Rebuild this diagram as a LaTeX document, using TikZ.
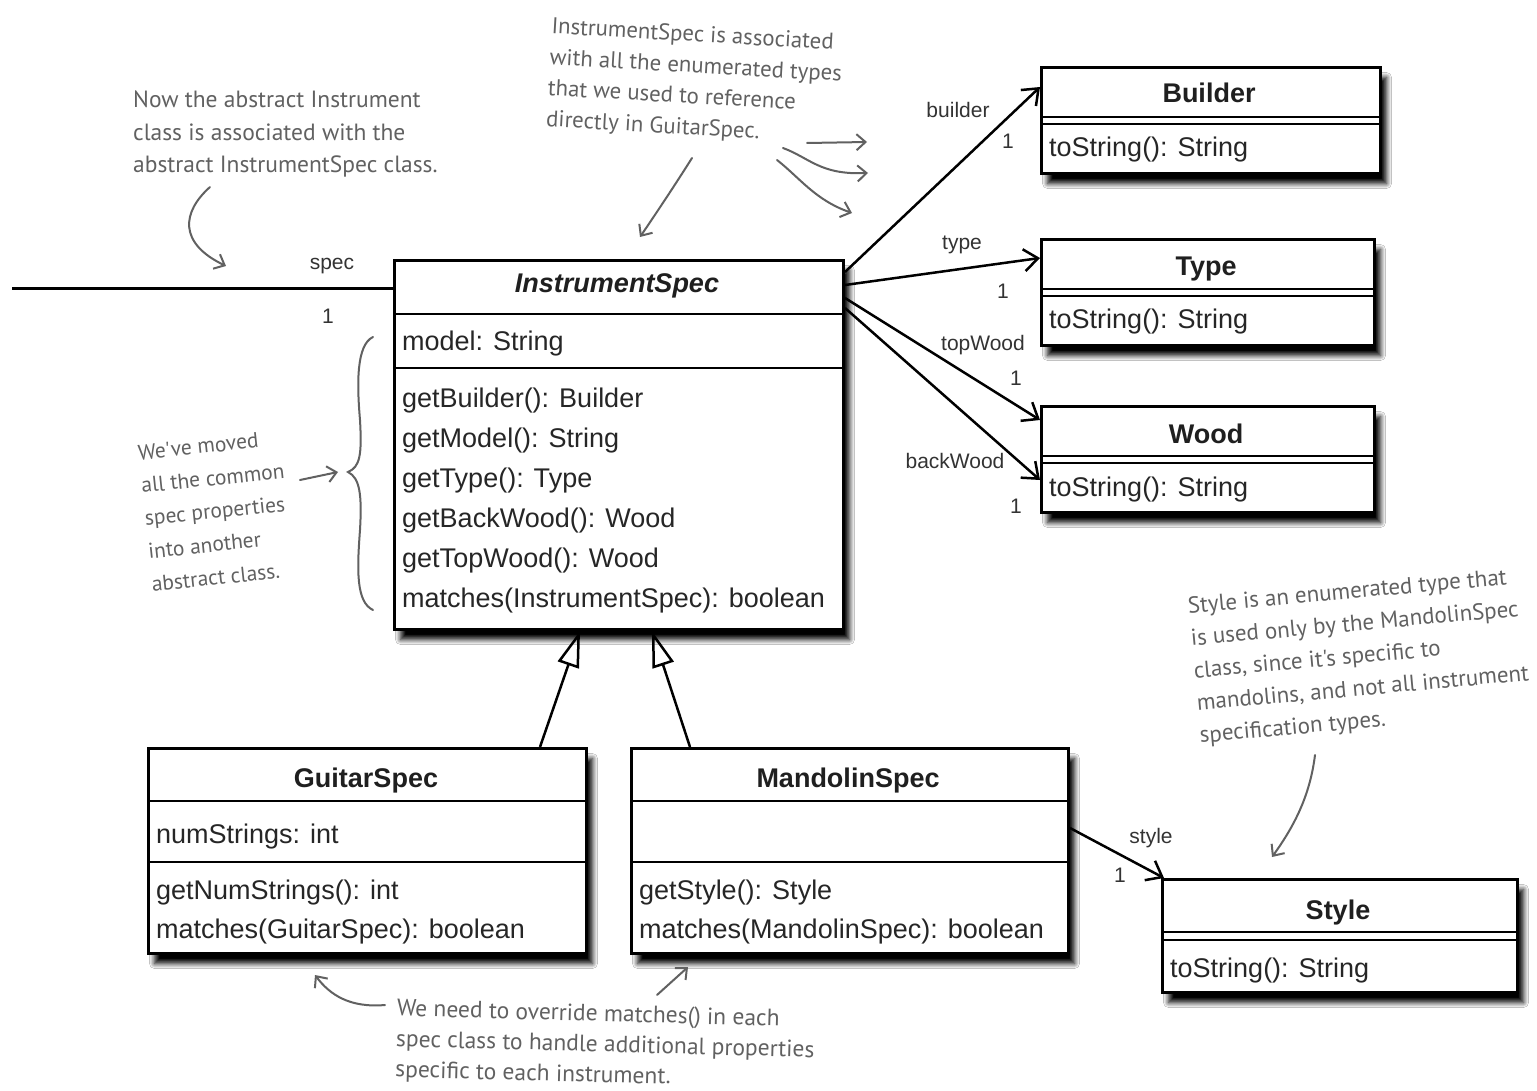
\documentclass[tikz,border=0pt]{standalone}
\usepackage{fontspec}
\setmainfont{Liberation Sans}
\newfontfamily\handfam{PT Sans}
\usetikzlibrary{arrows.meta,shadows.blur,calc}
\newcommand\clsfont{\fontsize{27}{32}\selectfont}
\newcommand\lblfont{\fontsize{21}{25}\selectfont}
\newcommand\handfont{\handfam\fontsize{22}{31}\selectfont}
\begin{document}
\begin{tikzpicture}[x=1pt,y=-1pt,
  umlbox/.style={draw, line width=3pt, fill=white, rectangle, inner sep=0pt, anchor=north west,
     blur shadow={shadow xshift=6pt, shadow yshift=-10pt, shadow blur radius=5pt, shadow opacity=100, shadow blur steps=8}},
  sepline/.style={line width=2.5pt},
  ttl/.style={font=\clsfont\bfseries, anchor=base, inner sep=0pt, text=black!88},
  mem/.style={font=\clsfont, anchor=base west, inner sep=0pt, text=black!85},
  lbl/.style={font=\lblfont, anchor=center, inner sep=0pt, text=black!80},
  assoc/.style={line width=2.5pt, -{Straight Barb[length=14pt,width=22pt,line width=2.5pt]}},
  genarrow/.style={line width=2.5pt, -{Triangle[open,length=36pt,width=22pt,line width=2.5pt]}},
  annot/.style={font=\handfont, text=black!62, align=left, inner sep=0pt, anchor=north west},
  handarrow/.style={draw=black!62, line width=2pt, line cap=round, -{Straight Barb[length=9pt,width=16pt,line width=2pt]}},
  handline/.style={draw=black!62, line width=2pt, line cap=round},
]
\useasboundingbox (0,0) rectangle (1537,1091);
\fill[white] (0,0) rectangle (1537,1091);

% ---------- InstrumentSpec ----------
\node[umlbox, minimum width=449pt, minimum height=369pt] (is) at (393,259) {};
\draw[sepline] ([yshift=-55pt]is.north west) -- ([yshift=-55pt]is.north east);
\draw[sepline] ([yshift=-109pt]is.north west) -- ([yshift=-109pt]is.north east);
\node[ttl, font=\clsfont\bfseries\itshape] (ist) at (617,293) {InstrumentSpec};
\node[mem] (ism0) at (402,350) {model: String};
\foreach \t [count=\i] in {getBuilder(): Builder, getModel(): String, getType(): Type, getBackWood(): Wood, getTopWood(): Wood, matches(InstrumentSpec): boolean}
  \node[mem] (ism\i) at (402,{367+40*\i}) {\t};

% ---------- GuitarSpec ----------
\node[umlbox, minimum width=438pt, minimum height=205pt] (gs) at (147,747) {};
\draw[sepline] ([yshift=-54pt]gs.north west) -- ([yshift=-54pt]gs.north east);
\draw[sepline] ([yshift=-115pt]gs.north west) -- ([yshift=-115pt]gs.north east);
\node[ttl] (gst) at (366,787) {GuitarSpec};
\node[mem] (gsa) at (156,843) {numStrings: int};
\node[mem] (gsm1) at (156,899) {getNumStrings(): int};
\node[mem] (gsm2) at (156,938) {matches(GuitarSpec): boolean};

% ---------- MandolinSpec ----------
\node[umlbox, minimum width=437pt, minimum height=205pt] (man) at (630,747) {};
\draw[sepline] ([yshift=-54pt]man.north west) -- ([yshift=-54pt]man.north east);
\draw[sepline] ([yshift=-115pt]man.north west) -- ([yshift=-115pt]man.north east);
\node[ttl] (mant) at (848,787) {MandolinSpec};
\node[mem] (manm1) at (639,899) {getStyle(): Style};
\node[mem] (manm2) at (639,938) {matches(MandolinSpec): boolean};

% ---------- Builder ----------
\node[umlbox, minimum width=339pt, minimum height=106pt] (bld) at (1040,66) {};
\draw[sepline] ([yshift=-51pt]bld.north west) -- ([yshift=-51pt]bld.north east);
\draw[sepline] ([yshift=-58pt]bld.north west) -- ([yshift=-58pt]bld.north east);
\node[ttl] (bldt) at (1209,103) {Builder};
\node[mem] (bldm) at (1049,157) {toString(): String};

% ---------- Type ----------
\node[umlbox, minimum width=333pt, minimum height=106pt] (typ) at (1040,238) {};
\draw[sepline] ([yshift=-51pt]typ.north west) -- ([yshift=-51pt]typ.north east);
\draw[sepline] ([yshift=-58pt]typ.north west) -- ([yshift=-58pt]typ.north east);
\node[ttl] (typt) at (1206,276) {Type};
\node[mem] (typm) at (1049,329) {toString(): String};

% ---------- Wood ----------
\node[umlbox, minimum width=333pt, minimum height=106pt] (wd) at (1040,405) {};
\draw[sepline] ([yshift=-51pt]wd.north west) -- ([yshift=-51pt]wd.north east);
\draw[sepline] ([yshift=-58pt]wd.north west) -- ([yshift=-58pt]wd.north east);
\node[ttl] (wdt) at (1206,443) {Wood};
\node[mem] (wdm) at (1049,496) {toString(): String};

% ---------- Style ----------
\node[umlbox, minimum width=355pt, minimum height=113pt] (sty) at (1161,878) {};
\draw[sepline] ([yshift=-54pt]sty.north west) -- ([yshift=-54pt]sty.north east);
\draw[sepline] ([yshift=-62pt]sty.north west) -- ([yshift=-62pt]sty.north east);
\node[ttl] (styt) at (1338,919) {Style};
\node[mem] (stym) at (1170,977) {toString(): String};

% ---------- connectors ----------
\coordinate (specend) at (12,289);
\draw[line width=3pt] (specend) -- (is.west |- specend);
\node[lbl] (lspec) at (332,266) {spec};
\node[lbl] (lspec1) at (328,316) {1};

\draw[assoc] ([yshift=-13pt]is.north east) -- ([yshift=-21pt]bld.north west);
\draw[assoc] ([yshift=-26pt]is.north east) -- ([yshift=-20pt]typ.north west);
\draw[assoc] ([yshift=-39pt]is.north east) -- ([yshift=-15pt]wd.north west);
\draw[assoc] ([yshift=-49pt]is.north east) -- ([yshift=-75pt]wd.north west);
\draw[assoc] ([yshift=-81pt]man.north east) -- ([xshift=3pt]sty.north west);

\node[lbl] (lbld) at (958,110) {builder};
\node[lbl] (lbld1) at (1008,141) {1};
\node[lbl] (ltyp) at (962,245) {type};
\node[lbl] (ltyp1) at (1003,291) {1};
\node[lbl] (ltop) at (983,345) {topWood};
\node[lbl] (ltop1) at (1016,378) {1};
\node[lbl] (lback) at (955,461) {backWood};
\node[lbl] (lback1) at (1016,506) {1};
\node[lbl] (lsty) at (1151,838) {style};
\node[lbl] (lsty1) at (1120,875) {1};

\draw[genarrow] ([xshift=393pt]gs.north west) -- ([xshift=187pt]is.south west);
\draw[genarrow] ([xshift=60pt]man.north west) -- ([xshift=259pt]is.south west);

% ---------- annotations ----------
\node[annot, font=\handfam\fontsize{23.5}{32.5}\selectfont] (n1) at (133,91) {Now the abstract Instrument\\class is associated with the\\abstract InstrumentSpec class.};
\coordinate (n1a) at (210,187);
\coordinate (n1b) at (226,266);
\draw[handarrow] (n1a) .. controls (182,212) and (178,243) .. (n1b);

\node[annot, rotate=-3.3, font=\handfam\fontsize{22.8}{31}\selectfont] (n2) at (552,17) {InstrumentSpec is associated\\with all the enumerated types\\that we used to reference\\directly in GuitarSpec.};
\coordinate (n2a) at (692,158);
\coordinate (n2b) at (640,237);
\draw[handarrow] (n2a) .. controls (675,185) and (655,215) .. (n2b);
\coordinate (n2c) at (807,143);
\coordinate (n2d) at (867,142);
\draw[handarrow] (n2c) -- (n2d);
\coordinate (n2e) at (783,148);
\coordinate (n2f) at (868,173);
\draw[handarrow] (n2e) .. controls (810,158) and (820,175) .. (n2f);
\coordinate (n2g) at (777,160);
\coordinate (n2h) at (852,213);
\draw[handarrow] (n2g) .. controls (800,178) and (815,200) .. (n2h);

\node[annot, rotate=6, font=\handfam\fontsize{21.5}{33}\selectfont] (n3) at (137,445) {We've moved\\all the common\\spec properties\\into another\\abstract class.};
\coordinate (n3a) at (300,480);
\coordinate (n3b) at (338,472);
\draw[handarrow] (n3a) -- (n3b);
\draw[handline] (373,337) .. controls (356,345) and (357,385) .. (360,420)
  .. controls (362,455) and (360,467) .. (348,472)
  .. controls (360,478) and (362,495) .. (360,530)
  .. controls (357,570) and (356,602) .. (373,610);

\node[annot, rotate=-1.5, font=\handfam\fontsize{23.5}{30.5}\selectfont] (n4) at (397,999) {We need to override matches() in each\\spec class to handle additional properties\\specific to each instrument.};
\coordinate (n4a) at (385,1005);
\coordinate (n4b) at (315,975);
\draw[handarrow] (n4a) .. controls (350,1008) and (330,995) .. (n4b);
\coordinate (n4c) at (657,995);
\coordinate (n4d) at (688,967);
\draw[handarrow] (n4c) -- (n4d);

\node[annot, rotate=5.2, font=\handfam\fontsize{23}{32.5}\selectfont] (n5) at (1187,597) {Style is an enumerated type that\\is used only by the MandolinSpec\\class, since it's specific to\\mandolins, and not all instrument\\specification types.};
\coordinate (n5a) at (1315,755);
\coordinate (n5b) at (1272,857);
\draw[handarrow] (n5a) .. controls (1310,795) and (1295,825) .. (n5b);
\end{tikzpicture}
\end{document}
